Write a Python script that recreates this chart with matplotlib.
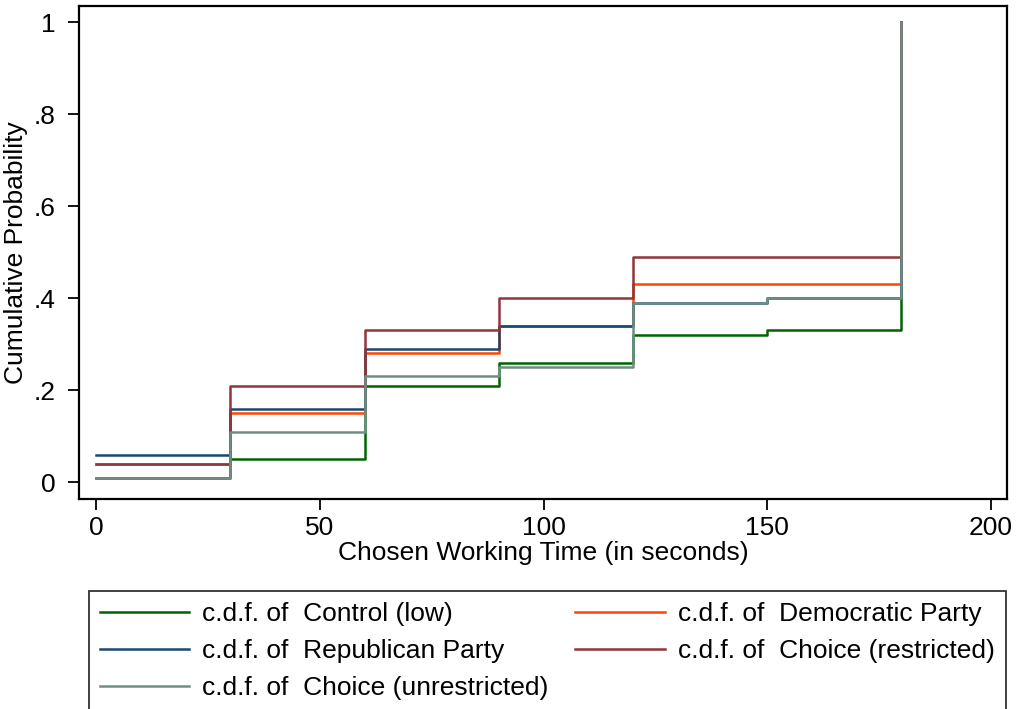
import matplotlib.pyplot as plt

plt.rcParams['font.family'] = ['Liberation Sans', 'DejaVu Sans']

# step points (seconds) and cumulative probabilities
times = [0, 30, 60, 90, 120, 150, 180]
control_low = [0.01, 0.05, 0.21, 0.26, 0.32, 0.33, 1.0]
democratic = [0.04, 0.15, 0.28, 0.34, 0.43, 0.43, 1.0]
republican = [0.06, 0.16, 0.29, 0.34, 0.39, 0.40, 1.0]
choice_restricted = [0.04, 0.21, 0.33, 0.40, 0.49, 0.49, 1.0]
choice_unrestricted = [0.01, 0.11, 0.23, 0.25, 0.39, 0.40, 1.0]

fig = plt.figure(figsize=(10.16, 7.09), dpi=100)
ax = fig.add_axes([0.0778, 0.296, 0.913, 0.6955])

l1, = ax.plot(times, control_low, drawstyle='steps-post', color='#006400', lw=1.8,
              label='c.d.f. of  Control (low)')
l2, = ax.plot(times, democratic, drawstyle='steps-post', color='#ff4500', lw=1.8,
              label='c.d.f. of  Democratic Party')
l3, = ax.plot(times, republican, drawstyle='steps-post', color='#1a476f', lw=1.8,
              label='c.d.f. of  Republican Party')
l4, = ax.plot(times, choice_restricted, drawstyle='steps-post', color='#90353b', lw=1.8,
              label='c.d.f. of  Choice (restricted)')
l5, = ax.plot(times, choice_unrestricted, drawstyle='steps-post', color='#6e8e84', lw=1.8,
              label='c.d.f. of  Choice (unrestricted)')

ax.set_xlim(-3.8, 203.5)
ax.set_ylim(-0.037, 1.035)
ax.set_xticks([0, 50, 100, 150, 200])
ax.set_yticks([0, 0.2, 0.4, 0.6, 0.8, 1.0])
ax.set_yticklabels(['0', '.2', '.4', '.6', '.8', '1'])
ax.tick_params(labelsize=19, length=8, width=1.3, colors='black')
ax.tick_params(axis='y', pad=9)
ax.tick_params(axis='x', pad=4)
for s in ax.spines.values():
    s.set_linewidth(1.6)

ax.set_xlabel('Chosen Working Time (in seconds)', fontsize=19, labelpad=1)
ax.set_ylabel('Cumulative Probability', fontsize=19, labelpad=4)

# legend filled row by row like the original
leg = fig.legend(handles=[l1, l3, l5, l2, l4], ncol=2, loc='upper left',
                 bbox_to_anchor=(0.0876, 0.166), fontsize=19, frameon=True,
                 fancybox=False, edgecolor='black', handlelength=3.4,
                 handletextpad=0.5, columnspacing=1.0, labelspacing=0.5,
                 borderpad=0.4, borderaxespad=0)
leg.get_frame().set_linewidth(1.3)

fig.savefig('out.png', dpi=100)
